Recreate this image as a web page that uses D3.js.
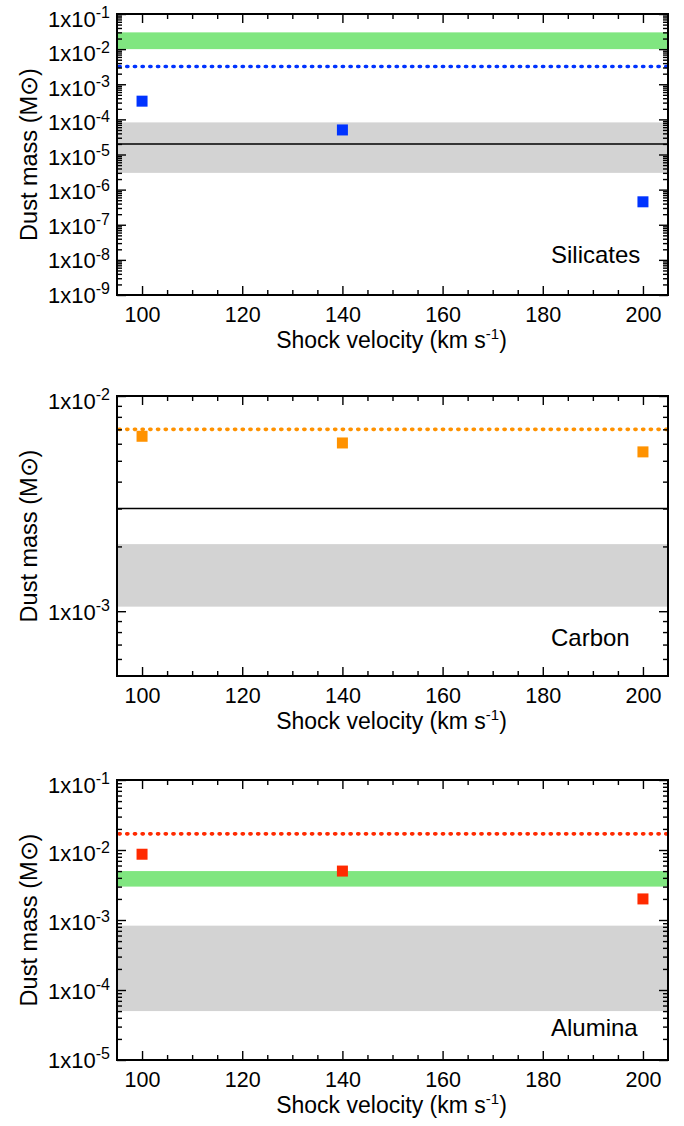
<!DOCTYPE html>
<html>
<head>
<meta charset="utf-8">
<script src="https://cdn.jsdelivr.net/npm/d3@7"></script>
<style>
  body { margin: 0; background: #fff; }
  text { font-family: "Liberation Sans", Arial, Helvetica, sans-serif; fill: #000; }
</style>
</head>
<body>
<script>
"use strict";

// data

const shockVelocity = [100, 140, 200];
const silicateMass = [3.3e-4, 5.0e-5, 4.5e-7];
const carbonMass = [6.5e-3, 6.05e-3, 5.5e-3];
const aluminaMass = [8.7e-3, 5.0e-3, 2.0e-3];

const panelNames = ['Silicates', 'Carbon', 'Alumina'];
const dottedMass = [3.2e-3, 7.0e-3, 1.7e-2];
const solidMass = [2.0e-5, 3.0e-3, null];
const grayRange = [[3.0e-6, 8.2e-5], [1.05e-3, 2.05e-3], [5.0e-5, 8.3e-4]];
const greenRange = [[1.0e-2, 3.0e-2], null, [3.0e-3, 5.0e-3]];

const xDomain = [95, 205];
const xTickLabels = [100, 120, 140, 160, 180, 200];
const yDomains = [[1e-9, 1e-1], [5e-4, 1e-2], [1e-5, 1e-1]];
const yTickExponents = [
    [-9, -8, -7, -6, -5, -4, -3, -2, -1],
    [-3, -2],
    [-5, -4, -3, -2, -1]
];

// styles / layout

const colors = ['#0033ff', '#ff9200', '#ff2a00'];
const green = '#80e680';
const gray = '#d3d3d3';

const margin = { left: 117, right: 16 };
const W = 684, H = 1126;
const panelTop = [14, 396, 780];
const panelBottom = [295, 676, 1060];
const labelBaseline = [263, 646, 1036];
const pw = W - margin.left - margin.right;
const font = '"Liberation Sans", Arial, sans-serif';

const svg = d3.select('body')
    .append('svg')
    .attr('width', W)
    .attr('height', H);

const masses = [silicateMass, carbonMass, aluminaMass];

const minorLogTicks = (dom) => {
    let out = [];
    let e0 = Math.floor(Math.log10(dom[0]));
    let e1 = Math.ceil(Math.log10(dom[1]));
    for (let e = e0; e <= e1; e++) {
        for (let k = 2; k <= 9; k++) {
            let v = k * Math.pow(10, e);
            if (v > dom[0] * 1.0001 && v < dom[1] * 0.9999) out.push(v);
        }
    }
    return out;
};

const xMinor = d3.range(xDomain[0], xDomain[1] + 1, 5)
    .filter((v) => v > xDomain[0] && v < xDomain[1] && !xTickLabels.includes(v));

panelNames.forEach((name, i) => {
    const ph = panelBottom[i] - panelTop[i];
    const g = svg.append('g')
        .attr('transform', 'translate(' + margin.left + ',' + panelTop[i] + ')');

    const x = d3.scaleLinear().domain(xDomain).range([0, pw]);
    const y = d3.scaleLog().domain(yDomains[i]).range([ph, 0]);

    // bands
    if (greenRange[i]) {
        g.append('rect')
            .attr('x', x(xDomain[0]))
            .attr('width', x(xDomain[1]) - x(xDomain[0]))
            .attr('y', y(greenRange[i][1]))
            .attr('height', y(greenRange[i][0]) - y(greenRange[i][1]))
            .attr('fill', green);
    }
    g.append('rect')
        .attr('x', x(xDomain[0]))
        .attr('width', x(xDomain[1]) - x(xDomain[0]))
        .attr('y', y(grayRange[i][1]))
        .attr('height', y(grayRange[i][0]) - y(grayRange[i][1]))
        .attr('fill', gray);

    if (solidMass[i] !== null) {
        g.append('line')
            .attr('x1', x(xDomain[0])).attr('x2', x(xDomain[1]))
            .attr('y1', y(solidMass[i])).attr('y2', y(solidMass[i]))
            .attr('stroke', '#000')
            .attr('stroke-width', 1.4);
    }

    g.append('line')
        .attr('x1', x(xDomain[0]) + 2).attr('x2', x(xDomain[1]))
        .attr('y1', y(dottedMass[i])).attr('y2', y(dottedMass[i]))
        .attr('stroke', colors[i])
        .attr('stroke-width', 3.6)
        .attr('stroke-linecap', 'round')
        .attr('stroke-dasharray', '1.2,6.5');

    // points
    const sq = 11;
    g.selectAll('rect.pt')
        .data(shockVelocity.map((v, j) => [v, masses[i][j]]))
        .enter()
        .append('rect')
        .attr('class', 'pt')
        .attr('x', (d) => x(d[0]) - sq / 2)
        .attr('y', (d) => y(d[1]) - sq / 2)
        .attr('width', sq)
        .attr('height', sq)
        .attr('fill', colors[i]);

    // axes, ticks pointing inward on all four sides
    const strip = (a) => { a.select('.domain').remove(); a.selectAll('line').attr('stroke-width', 1.4); };

    g.append('g')
        .attr('transform', 'translate(0,' + ph + ')')
        .call(d3.axisBottom(x).tickValues(xTickLabels).tickSize(-9).tickPadding(11.5))
        .call(strip)
        .selectAll('text')
        .style('font-size', '21.5px')
        .style('font-family', font);
    g.append('g')
        .attr('transform', 'translate(0,' + ph + ')')
        .call(d3.axisBottom(x).tickValues(xMinor).tickSize(-5).tickFormat(''))
        .call(strip);
    g.append('g')
        .call(d3.axisTop(x).tickValues(xTickLabels).tickSize(-9).tickFormat(''))
        .call(strip);
    g.append('g')
        .call(d3.axisTop(x).tickValues(xMinor).tickSize(-5).tickFormat(''))
        .call(strip);

    const yMajor = yTickExponents[i].map((e) => Math.pow(10, e));
    const yMinor = minorLogTicks(yDomains[i]);

    const yl = g.append('g')
        .call(d3.axisLeft(y).tickValues(yMajor).tickSize(-9).tickPadding(7))
        .call(strip);
    yl.selectAll('.tick text').each(function (d) {
        // labels sit a little below their tick, less so further down
        const off = 12 - 5 * y(d) / ph;
        const t = d3.select(this)
            .text(null)
            .attr('dy', off)
            .style('font-size', '22px')
            .style('font-family', font);
        t.append('tspan').text('1x10');
        t.append('tspan')
            .attr('dy', -8.5)
            .style('font-size', '16px')
            .text(Math.round(Math.log10(d)));
    });
    g.append('g')
        .call(d3.axisLeft(y).tickValues(yMinor).tickSize(-5).tickFormat(''))
        .call(strip);
    g.append('g')
        .attr('transform', 'translate(' + pw + ',0)')
        .call(d3.axisRight(y).tickValues(yMajor).tickSize(-9).tickFormat(''))
        .call(strip);
    g.append('g')
        .attr('transform', 'translate(' + pw + ',0)')
        .call(d3.axisRight(y).tickValues(yMinor).tickSize(-5).tickFormat(''))
        .call(strip);

    // frame
    g.append('rect')
        .attr('width', pw)
        .attr('height', ph)
        .attr('fill', 'none')
        .attr('stroke', '#000')
        .attr('stroke-width', 2);

    // titles
    g.append('text')
        .attr('x', pw / 2 - 1)
        .attr('y', ph + 52.5)
        .attr('text-anchor', 'middle')
        .style('font-size', '23px')
        .call((t) => {
            t.append('tspan').text('Shock velocity (km s');
            t.append('tspan').attr('dy', -8.5).style('font-size', '15px').text('-1');
            t.append('tspan').attr('dy', 8.5).text(')');
        });

    g.append('text')
        .attr('transform', 'translate(' + (37 - margin.left) + ',' + (ph / 2) + ') rotate(-90)')
        .attr('text-anchor', 'middle')
        .style('font-size', '23.5px')
        .text('Dust mass (M\u2299)');

    g.append('text')
        .attr('x', 551 - margin.left)
        .attr('y', labelBaseline[i] - panelTop[i])
        .style('font-size', '24px')
        .text(name);
});
</script>
</body>
</html>
